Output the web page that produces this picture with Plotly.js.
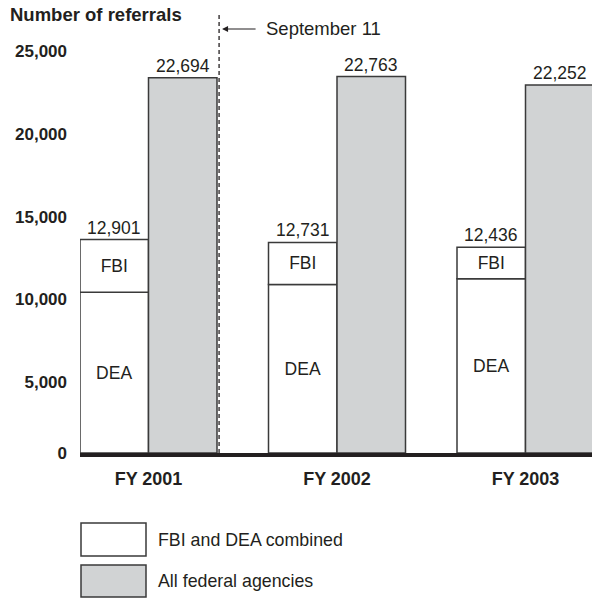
<!DOCTYPE html>
<html><head><meta charset="utf-8">
<script src="https://cdn.plot.ly/plotly-3.0.1.min.js"></script>
<style>html,body{margin:0;padding:0;background:#fff}</style>
</head><body><div id="chart" style="width:592px;height:598px"></div>
<script>
const years = ['FY 2001', 'FY 2002', 'FY 2003'];
const deaValues = [9720, 10190, 10530];
const fbiValues = [3181, 2541, 1906];
const combinedTotals = [12901, 12731, 12436];
const allAgencies = [22694, 22763, 22252];
const yTicks = [0, 5000, 10000, 15000, 20000, 25000];
const yTickText = ['0', '5,000', '10,000', '15,000', '20,000', '25,000'];
const legendLabels = ['FBI and DEA combined', 'All federal agencies'];
const eventLabel = 'September 11';
const yTitle = 'Number of referrals';

const FONT = 'Liberation Sans, Arial, Helvetica, sans-serif';
const INK = '#231f20';
const GRAY = '#d1d3d4';
const EDGE = '#3a3a3a';
const w = 0.3634;
const YMAX = 26663;
const idx = years.map((_, i) => i);
const fmt = v => v.toLocaleString('en-US');

const traces = [
  {type: 'bar', x: idx.map(i => i - w / 2), y: deaValues, width: w,
   marker: {color: '#fff', line: {color: EDGE, width: 1.5}},
   text: deaValues.map(() => 'DEA'), textposition: 'inside', insidetextanchor: 'middle',
   textangle: 0, insidetextfont: {family: FONT, size: 17.5, color: INK}, hoverinfo: 'none'},
  {type: 'bar', x: idx.map(i => i - w / 2), y: fbiValues, base: deaValues, width: w,
   marker: {color: '#fff', line: {color: EDGE, width: 1.5}},
   text: fbiValues.map(() => 'FBI'), textposition: 'inside', insidetextanchor: 'middle',
   textangle: 0, insidetextfont: {family: FONT, size: 17.5, color: INK}, hoverinfo: 'none'},
  {type: 'bar', x: idx.map(i => i + w / 2), y: allAgencies, width: w,
   marker: {color: GRAY, line: {color: EDGE, width: 1.5}}, hoverinfo: 'none'},
  // invisible trace to carry the zero-label axis
  {type: 'scatter', x: [0], y: [0], yaxis: 'y2', mode: 'markers', marker: {opacity: 0}, hoverinfo: 'none'}
];

const annotations = [];
idx.forEach(i => {
  annotations.push({x: i - w / 2, y: combinedTotals[i], xref: 'x', yref: 'y', text: fmt(combinedTotals[i]),
    showarrow: false, yanchor: 'bottom', yshift: 0, font: {family: FONT, size: 17.5, color: INK}});
  annotations.push({x: i + w / 2, y: allAgencies[i], xref: 'x', yref: 'y', text: fmt(allAgencies[i]),
    showarrow: false, yanchor: 'bottom', yshift: 0, font: {family: FONT, size: 17.5, color: INK}});
});
const sepX = w + 0.011;
annotations.push({x: sepX, y: 0.9615, xref: 'x', yref: 'paper', text: '', showarrow: true,
  ax: 38, ay: 0, axref: 'pixel', arrowhead: 2, arrowsize: 1, arrowwidth: 1.2, arrowcolor: INK, standoff: 3});
annotations.push({x: sepX, y: 0.9615, xref: 'x', yref: 'paper', text: eventLabel, showarrow: false,
  xanchor: 'left', yanchor: 'middle', xshift: 45, font: {family: FONT, size: 18.5, color: INK}});
const lgY = [(453 - 540) / 441, (453 - 581) / 441];
legendLabels.forEach((t, k) => {
  annotations.push({x: (156 - 80) / 512, y: lgY[k], xref: 'paper', yref: 'paper', text: t, showarrow: false,
    xanchor: 'left', yanchor: 'middle', font: {family: FONT, size: 17.8, color: INK}});
});

const shapes = [
  {type: 'line', xref: 'x', yref: 'y', x0: sepX, x1: sepX, y0: 0, y1: YMAX,
   line: {color: INK, width: 1.3, dash: '4px,3px'}},
  {type: 'rect', xref: 'paper', yref: 'paper', x0: (81 - 80) / 512, x1: (146 - 80) / 512,
   y0: (453 - 556) / 441, y1: (453 - 523) / 441, fillcolor: '#fff', line: {color: EDGE, width: 1.5}},
  {type: 'rect', xref: 'paper', yref: 'paper', x0: (81 - 80) / 512, x1: (146 - 80) / 512,
   y0: (453 - 597) / 441, y1: (453 - 565) / 441, fillcolor: GRAY, line: {color: EDGE, width: 1.5}}
];

const tickFont = {family: FONT, size: 17, color: INK, weight: 'bold'};
const layout = {
  width: 592, height: 598,
  margin: {l: 80, r: 0, t: 12, b: 145},
  paper_bgcolor: '#fff', plot_bgcolor: 'rgba(0,0,0,0)',
  barmode: 'overlay', showlegend: false,
  title: {text: '<b>' + yTitle + '</b>', x: 10 / 592, xanchor: 'left', xref: 'container',
    y: 1 - 15 / 598, yanchor: 'middle', yref: 'container', font: {family: FONT, size: 18.5, color: INK}},
  xaxis: {range: [-w, -w + 512 / 188.5], tickvals: idx, ticktext: years, showgrid: false, zeroline: false,
    showline: true, linewidth: 4, linecolor: INK, ticks: '', ticklabelstandoff: 6,
    tickfont: {family: FONT, size: 18, color: INK, weight: 'bold'}, fixedrange: true},
  yaxis: {range: [0, YMAX], tickvals: yTicks.slice(1), ticktext: yTickText.slice(1), showgrid: false, zeroline: false,
    showline: false, ticks: '', ticklabelposition: 'outside bottom', ticklabelstandoff: 12,
    tickfont: tickFont, fixedrange: true},
  yaxis2: {range: [0, YMAX], overlaying: 'y', side: 'left', anchor: 'x', tickvals: yTicks.slice(0, 1),
    ticktext: yTickText.slice(0, 1), showgrid: false, zeroline: false, showline: false, ticks: '',
    ticklabelstandoff: 12, tickfont: tickFont, fixedrange: true},
  annotations: annotations, shapes: shapes
};

Plotly.newPlot('chart', traces, layout, {displayModeBar: false, staticPlot: true});
</script></body></html>
